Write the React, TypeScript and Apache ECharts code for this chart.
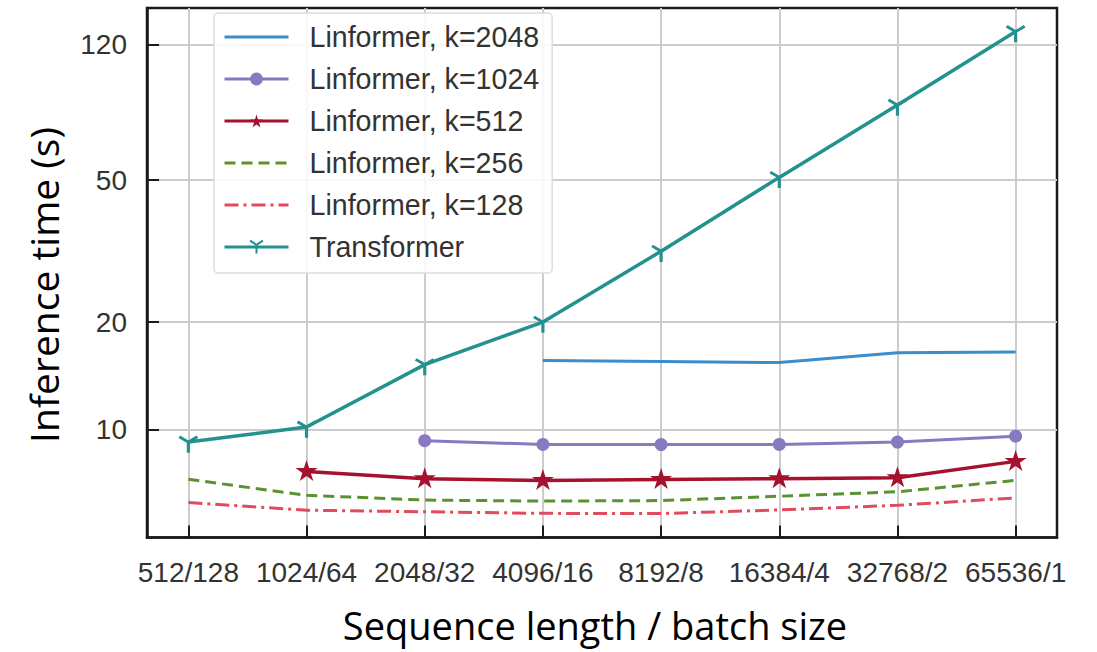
import React, { useEffect, useRef } from "react";
import * as echarts from "echarts";

const categories = ["512/128", "1024/64", "2048/32", "4096/16", "8192/8", "16384/4", "32768/2", "65536/1"];
const yTickValues = [10, 20, 50, 120];
const seriesNames = ["Linformer, k=2048", "Linformer, k=1024", "Linformer, k=512", "Linformer, k=256", "Linformer, k=128", "Transformer"];

const k2048 = [null, null, null, 15.6, 15.5, 15.4, 16.4, 16.5];
const k1024 = [null, null, 9.3, 9.08, 9.07, 9.08, 9.22, 9.58];
const k512 = [null, 7.63, 7.28, 7.2, 7.24, 7.28, 7.32, 8.14];
const k256 = [7.25, 6.54, 6.34, 6.3, 6.32, 6.5, 6.69, 7.2];
const k128 = [6.24, 5.94, 5.88, 5.82, 5.81, 5.95, 6.13, 6.43];
const transformer = [9.22, 10.16, 15.2, 20.0, 31.6, 50.9, 81.2, 130.5];

const COLORS = ["#3b8dcc", "#8879c0", "#a6112f", "#5b9230", "#e14b5d", "#23928f"];

const TRI_DOWN = "path://M0,0L0,10M0,0L-8.66,-5M0,0L8.66,-5";
const STAR = "path://M0,-100L22.45,-30.9L95.1,-30.9L36.3,11.8L58.8,80.9L0,38.2L-58.8,80.9L-36.3,11.8L-95.1,-30.9L-22.45,-30.9Z";

const toPoints = (arr: (number | null)[]) =>
  arr.map((v, i) => (v == null ? null : [i, v])).filter((p) => p !== null);

export default function App() {
  const ref = useRef<HTMLDivElement>(null);
  useEffect(() => {
    const chart = echarts.init(ref.current!, null, { renderer: "svg" });
    const tickFont = "Liberation Sans";
    const hidden = { color: "transparent", borderColor: "transparent", borderWidth: 0 };
    const option: any = {
      animation: false,
      backgroundColor: "#ffffff",
      grid: {
        left: 147,
        top: 8,
        width: 910,
        height: 529.5,
        show: true,
        borderColor: "#1a1a1a",
        borderWidth: 2.5,
        backgroundColor: "transparent",
        containLabel: false,
      },
      xAxis: {
        type: "value",
        min: -0.35,
        max: 7.35,
        axisLine: { show: true, onZero: false, lineStyle: { color: "#1a1a1a", width: 2.5 } },
        axisTick: {
          show: true,
          inside: true,
          length: 12,
          customValues: [0, 1, 2, 3, 4, 5, 6, 7],
          lineStyle: { color: "#1a1a1a", width: 2 },
        },
        axisLabel: {
          customValues: [0, 1, 2, 3, 4, 5, 6, 7],
          formatter: (v: number) => categories[Math.round(v)] ?? "",
          fontSize: 28,
          fontFamily: tickFont,
          color: "#333333",
          margin: 21,
        },
        splitLine: { show: true, lineStyle: { color: "#cccccc", width: 2 } },
      },
      yAxis: {
        type: "log",
        logBase: 10,
        min: 4.98,
        max: 151.9,
        axisLine: { show: true, onZero: false, lineStyle: { color: "#1a1a1a", width: 2.5 } },
        axisTick: {
          show: true,
          inside: true,
          length: 12,
          customValues: yTickValues,
          lineStyle: { color: "#1a1a1a", width: 2 },
        },
        axisLabel: {
          customValues: yTickValues,
          formatter: (v: number) => String(Math.round(v)),
          fontSize: 28,
          fontFamily: tickFont,
          color: "#333333",
          margin: 20,
        },
        splitLine: { show: true, lineStyle: { color: "#cccccc", width: 2 } },
        minorTick: { show: false },
        minorSplitLine: { show: false },
      },
      legend: {
        orient: "vertical",
        left: 214,
        top: 13,
        padding: [9, 13, 11, 9],
        itemWidth: 64,
        itemHeight: 16,
        itemGap: 12,
        backgroundColor: "rgba(255,255,255,0.85)",
        borderColor: "#dddddd",
        borderWidth: 1.5,
        borderRadius: 4,
        lineStyle: { width: 3 },
        data: [
          { name: seriesNames[0], itemStyle: hidden },
          { name: seriesNames[1] },
          { name: seriesNames[2] },
          { name: seriesNames[3], itemStyle: hidden },
          { name: seriesNames[4], itemStyle: hidden },
          { name: seriesNames[5] },
        ],
        textStyle: {
          fontSize: 28.6,
          lineHeight: 30,
          fontFamily: tickFont,
          color: "#333333",
          padding: [0, 0, 0, 16],
        },
      },
      graphic: [
        {
          type: "text",
          x: 43,
          y: 285,
          rotation: Math.PI / 2,
          style: {
            text: "Inference time (s)",
            fontSize: 39,
            fontFamily: "Open Sans",
            fill: "#000000",
            align: "center",
            verticalAlign: "middle",
          },
        },
        {
          type: "text",
          x: 595,
          y: 625,
          style: {
            text: "Sequence length / batch size",
            fontSize: 38,
            fontFamily: "Open Sans",
            fill: "#000000",
            align: "center",
            verticalAlign: "middle",
          },
        },
      ],
      series: [
        {
          name: seriesNames[0],
          type: "line",
          data: toPoints(k2048),
          symbol: "none",
          lineStyle: { color: COLORS[0], width: 3 },
          itemStyle: { color: COLORS[0] },
          z: 3,
        },
        {
          name: seriesNames[1],
          type: "line",
          data: toPoints(k1024),
          symbol: "circle",
          symbolSize: 13,
          lineStyle: { color: COLORS[1], width: 3 },
          itemStyle: { color: COLORS[1] },
          z: 3,
        },
        {
          name: seriesNames[2],
          type: "line",
          data: toPoints(k512),
          symbol: STAR,
          symbolSize: [22, 21],
          symbolOffset: [0, -1],
          lineStyle: { color: COLORS[2], width: 3.5 },
          itemStyle: { color: COLORS[2] },
          z: 3,
        },
        {
          name: seriesNames[3],
          type: "line",
          data: toPoints(k256),
          symbol: "none",
          lineStyle: { color: COLORS[3], width: 3, type: [11, 6] },
          itemStyle: { color: COLORS[3] },
          z: 3,
        },
        {
          name: seriesNames[4],
          type: "line",
          data: toPoints(k128),
          symbol: "none",
          lineStyle: { color: COLORS[4], width: 3, type: [14, 5, 3, 5] },
          itemStyle: { color: COLORS[4] },
          z: 3,
        },
        {
          name: seriesNames[5],
          type: "line",
          data: toPoints(transformer),
          symbol: TRI_DOWN,
          symbolSize: [18, 16],
          symbolOffset: [0, 2.7],
          lineStyle: { color: COLORS[5], width: 3.5 },
          itemStyle: { color: COLORS[5], borderColor: COLORS[5], borderWidth: 3 },
          z: 3,
        },
      ],
    };
    chart.setOption(option);
    return () => chart.dispose();
  }, []);
  return (
    <div
      ref={ref}
      style={{ position: "fixed", left: 0, top: 0, width: 1097, height: 652, background: "#ffffff" }}
    />
  );
}
